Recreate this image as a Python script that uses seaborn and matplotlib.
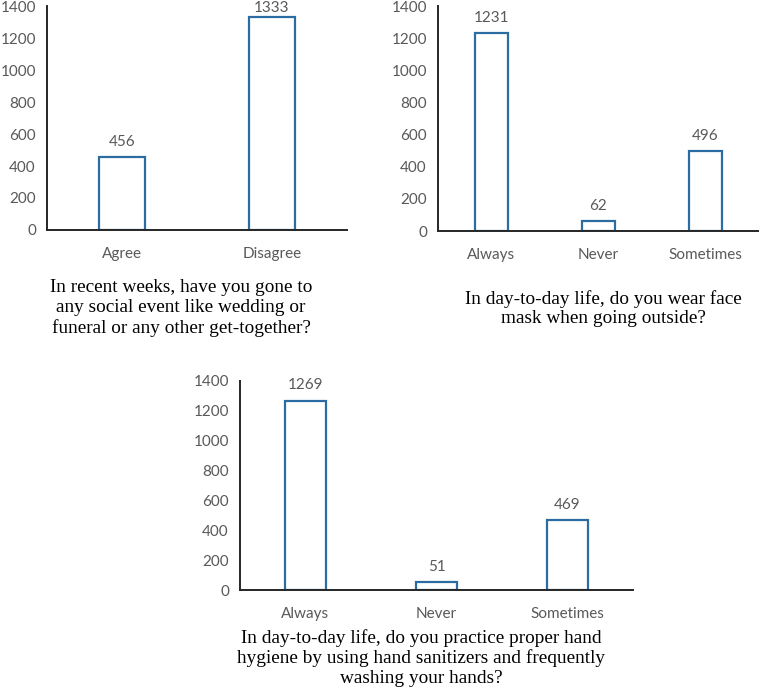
import matplotlib
matplotlib.use("Agg")
import matplotlib.pyplot as plt
import seaborn as sns

# === Data ===
social_cats = ["Agree", "Disagree"]
social_vals = [456, 1333]

mask_cats = ["Always", "Never", "Sometimes"]
mask_vals = [1231, 62, 496]

hygiene_cats = ["Always", "Never", "Sometimes"]
hygiene_vals = [1269, 51, 469]

y_ticks = [0, 200, 400, 600, 800, 1000, 1200, 1400]

captions = [
    "In recent weeks, have you gone to\nany social event like wedding or\nfuneral or any other get-together?",
    "In day-to-day life, do you wear face\nmask when going outside?",
    "In day-to-day life, do you practice proper hand\nhygiene by using hand sanitizers and frequently\nwashing your hands?",
]

# === Style ===
sns.set_style("white")
plt.rcParams["font.family"] = ["Lato", "DejaVu Sans"]
BAR_EDGE = "#2B6CA3"
LABEL_GREY = "#595959"

W, H = 759, 690
fig = plt.figure(figsize=(W / 100, H / 100), dpi=100)


def px_axes(left, top, right, bottom):
    return fig.add_axes([left / W, 1 - bottom / H, (right - left) / W, (bottom - top) / H])


def draw_panel(ax, cats, vals):
    sns.barplot(x=cats, y=vals, ax=ax, color="white", edgecolor=BAR_EDGE,
                linewidth=1.6, width=0.31, saturation=1)
    ax.set_ylim(0, 1400)
    ax.set_xlim(-0.5, len(cats) - 0.5)
    ax.set_yticks(y_ticks)
    ax.tick_params(axis="both", length=0, labelsize=11, labelcolor=LABEL_GREY)
    ax.tick_params(axis="y", pad=8)
    ax.tick_params(axis="x", pad=12)
    for side in ["top", "right"]:
        ax.spines[side].set_visible(False)
    for side in ["left", "bottom"]:
        ax.spines[side].set_color("#262626")
        ax.spines[side].set_linewidth(1.4)
    ax.set_xlabel("")
    ax.set_ylabel("")
    texts = ax.bar_label(ax.containers[0], labels=[str(v) for v in vals], padding=6,
                         fontsize=11, color=LABEL_GREY)
    # labels near the top of the axes sit closer to their bar, as in the original
    for t, v in zip(texts, vals):
        if v > 1300:
            t.xyann = (0, 1)
    ax.patch.set_alpha(0)


ax1 = px_axes(47, 6, 347, 230)
draw_panel(ax1, social_cats, social_vals)

ax2 = px_axes(438, 6, 759, 231)
draw_panel(ax2, mask_cats, mask_vals)

ax3 = px_axes(240, 381, 633, 590)
draw_panel(ax3, hygiene_cats, hygiene_vals)

# === Captions ===
cap_kw = dict(ha="center", va="center", fontsize=13.9, linespacing=1.2,
              family=["Liberation Serif", "DejaVu Serif"], color="black")
fig.text(181 / W, 1 - 308 / H, captions[0], **cap_kw)
fig.text(603 / W, 1 - 308.5 / H, captions[1], **cap_kw)
fig.text(421 / W, 1 - 658 / H, captions[2], **cap_kw)

fig.savefig("out.png", dpi=100)
